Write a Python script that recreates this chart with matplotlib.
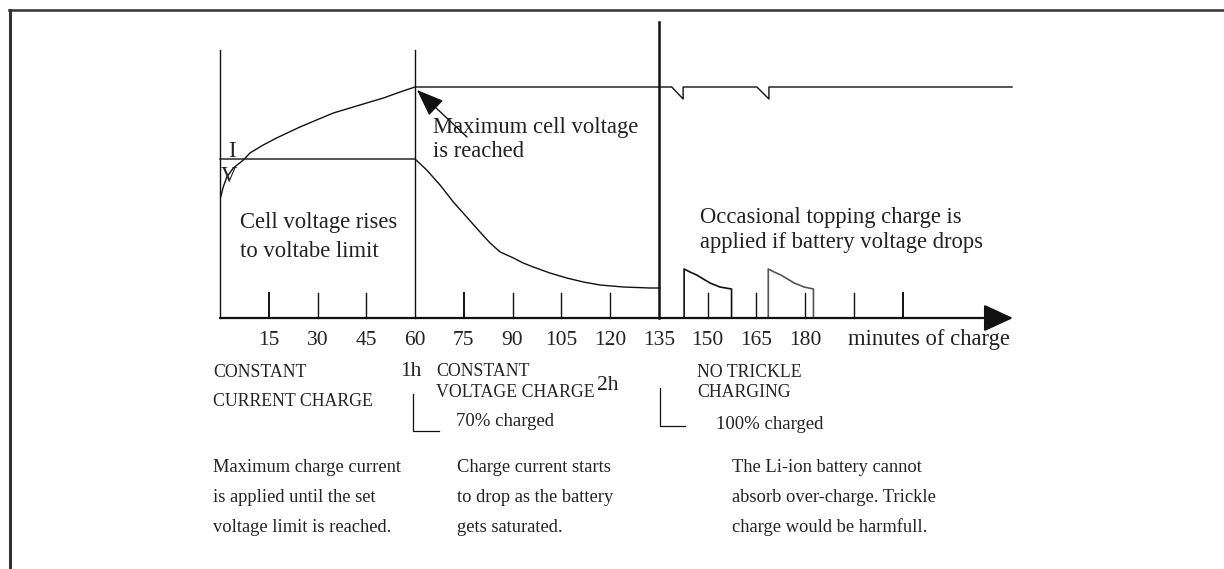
import numpy as np
import matplotlib.pyplot as plt
from matplotlib.lines import Line2D

plt.rcParams['font.family'] = ['Liberation Serif', 'DejaVu Serif']

# Curves (minutes of charge, relative level; 0 = time axis)
volt_t = [0.2, 1.0, 2.1, 4.1, 7.2, 9.2, 13.3, 17.4, 24.6, 29.7, 34.9, 40.0, 45.1, 50.3, 55.4, 60,
          139, 142.5, 142.5, 165.2, 168.9, 168.9, 243.7]
volt_v = [121, 131, 141, 150, 158, 165, 173, 180, 191, 198, 205, 210, 215, 220, 226, 231,
          231, 219, 231, 231, 219, 231, 231]

curr_t = [0, 60, 63.6, 67.7, 71.8, 75.9, 80.0, 83.1, 86.2, 90.3, 93.3, 96.4, 101.5, 106.7,
          111.8, 116.9, 124.1, 132.3, 135]
curr_v = [159, 159, 148, 133, 116, 101, 86, 75, 66, 60, 55, 51, 45, 40, 36, 33, 31, 30, 30]

# topping-charge pulses
pulse1_t = [142.8, 142.8, 144.6, 146.7, 148.7, 150.8, 153.8, 157.4, 157.4]
pulse1_v = [0, 49, 46, 43, 39, 35, 31, 29, 0]
pulse2_t = [168.7, 168.7, 170.5, 172.6, 174.6, 176.7, 179.7, 182.6, 182.6]
pulse2_v = [0, 49, 46, 43, 39, 35, 31, 29, 0]

tick_minutes = [15, 30, 45, 75, 90, 105, 120, 150, 165, 180, 195, 210]
label_minutes = [15, 30, 45, 60, 75, 90, 105, 120, 135, 150, 165, 180]

# px -> data helpers (layout only)
W, H = 1224, 569
X0, SX, Y0 = 220, 3.25, 318


def dx(px):
    return (px - X0) / SX


def dy(py):
    return Y0 - py


fig = plt.figure(figsize=(W / 100, H / 100), dpi=100)
ax = fig.add_axes([0, 0, 1, 1])
ax.set_xlim(dx(0), dx(W))
ax.set_ylim(dy(H), dy(0))
ax.axis('off')

ink = '#111111'
txt = '#222222'

# frame (top + left only)
fig.add_artist(Line2D([9 / W, 1], [1 - 10 / H, 1 - 10 / H], transform=fig.transFigure, color='#333333', lw=1.8))
fig.add_artist(Line2D([9.5 / W, 9.5 / W], [0, 1 - 10 / H], transform=fig.transFigure, color='#333333', lw=2.2))

# vertical guide lines
ax.plot([0, 0], [0, dy(50)], color=ink, lw=1.0)
ax.plot([60, 60], [0, dy(50)], color=ink, lw=1.0)
ax.plot([135, 135], [0, dy(22)], color=ink, lw=1.8)

# curves
ax.plot(volt_t, volt_v, color=ink, lw=1.0)
ax.plot(curr_t, curr_v, color=ink, lw=1.0)
ax.plot(pulse1_t, pulse1_v, color=ink, lw=1.2)
ax.plot(pulse2_t, pulse2_v, color='#555555', lw=1.2)

# ticks on time axis
for t in tick_minutes:
    lw = 1.4 if t in (15, 75, 210) else 1.0
    ax.plot([t, t], [0, 25], color=ink, lw=lw)

# time axis with arrow
ax.annotate('', xy=(dx(1013), 0), xytext=(0, 0),
            arrowprops=dict(arrowstyle='-|>,head_length=1.3,head_width=0.6', mutation_scale=14,
                            lw=1.6, color=ink, shrinkA=0, shrinkB=0))

# arrow to max cell voltage
ax.annotate('', xy=(dx(417), dy(90)), xytext=(dx(467), dy(137)),
            arrowprops=dict(arrowstyle='-|>,head_length=1.3,head_width=0.5', mutation_scale=13,
                            lw=1.0, color=ink, shrinkA=0, shrinkB=0))


def lines(px, py, rows, step, size, **kw):
    for i, r in enumerate(rows):
        ax.text(dx(px), dy(py + i * step), r, fontsize=size, color=txt, va='baseline', ha='left', **kw)


big = 16.3
lines(433, 133, ['Maximum cell voltage', 'is reached'], 24, big)
lines(240, 228, ['Cell voltage rises', 'to voltabe limit'], 29, big)
lines(700, 223, ['Occasional topping charge is', 'applied if battery voltage drops'], 25, big)
ax.text(dx(232), dy(157), 'I', fontsize=big, color=txt, ha='center', va='baseline')
ax.text(dx(229), dy(182), 'V', fontsize=big, color=txt, ha='center', va='baseline')

for m in label_minutes:
    ax.text(m, dy(345), str(m), fontsize=15.5, color=txt, ha='center', va='baseline')
lines(848, 345, ['minutes of charge'], 0, big)

caps = 12.8
lines(213, 377, ['CONSTANT', 'CURRENT CHARGE'], 29, caps)
lines(400, 376, ['1h'], 0, 15.5)
lines(436, 376, ['CONSTANT', 'VOLTAGE CHARGE'], 21, caps)
lines(597, 390, ['2h'], 0, 15.5)
lines(456, 426, ['70% charged'], 0, 13.5)
lines(697, 377, ['NO TRICKLE', 'CHARGING'], 20, caps)
lines(716, 429, ['100% charged'], 0, 13.5)

# brackets
ax.plot([dx(413), dx(413), dx(439)], [dy(394), dy(431), dy(431)], color=ink, lw=0.9)
ax.plot([dx(660), dx(660), dx(685)], [dy(388), dy(426), dy(426)], color=ink, lw=0.9)

para = 13.3
lines(213, 472, ['Maximum charge current', 'is applied until the set', 'voltage limit is reached.'], 30, para)
lines(457, 472, ['Charge current starts', 'to drop as the battery', 'gets saturated.'], 30, para)
lines(732, 472, ['The Li-ion battery cannot', 'absorb over-charge. Trickle', 'charge would be harmfull.'], 30, para)

fig.savefig('out.png', dpi=100)
